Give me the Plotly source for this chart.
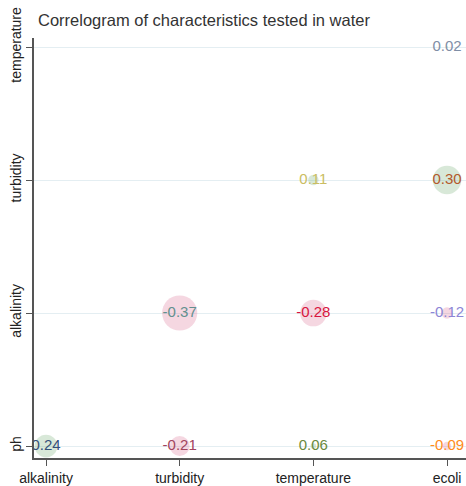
import plotly.graph_objects as go

# Variables on each axis
x_vars = ["alkalinity", "turbidity", "temperature", "ecoli"]
y_vars = ["ph", "alkalinity", "turbidity", "temperature"]

# Pairwise correlations (row variable vs column variable)
pair_rows = ["ph", "ph", "ph", "ph",
             "alkalinity", "alkalinity", "alkalinity",
             "turbidity", "turbidity",
             "temperature"]
pair_cols = ["alkalinity", "turbidity", "temperature", "ecoli",
             "turbidity", "temperature", "ecoli",
             "temperature", "ecoli",
             "ecoli"]
corr = [0.24, -0.21, 0.06, -0.09,
        -0.37, -0.28, -0.12,
        0.11, 0.30,
        0.02]

# Label colours for each coefficient
label_colors = ["#34507a", "#a2445e", "#6a8a3c", "#ff8c1a",
                "#62908f", "#d8143e", "#8c86d6",
                "#cbbd62", "#b3592c",
                "#7f8ea6"]

pos_rgb = (143, 188, 143)
neg_rgb = (219, 112, 147)


def bubble_color(r):
    rgb = pos_rgb if r >= 0 else neg_rgb
    alpha = 0.5 if r >= 0 else 0.4
    return f"rgba({rgb[0]},{rgb[1]},{rgb[2]},{alpha})"


FONT = "Liberation Sans, Arial, sans-serif"

fig = go.Figure(
    go.Scatter(
        x=pair_cols,
        y=pair_rows,
        mode="markers+text",
        text=[f"{r:.2f}" for r in corr],
        textposition="middle center",
        textfont=dict(family=FONT, size=15, color=label_colors),
        marker=dict(
            size=[abs(r) * 95 for r in corr],
            color=[bubble_color(r) for r in corr],
            line=dict(width=0),
        ),
        cliponaxis=False,
        hoverinfo="skip",
    )
)

fig.update_layout(
    width=466,
    height=486,
    margin=dict(l=34, r=0, t=38, b=28),
    paper_bgcolor="white",
    plot_bgcolor="white",
    showlegend=False,
    font=dict(family=FONT, size=14, color="#222"),
    title=dict(
        text="Correlogram of characteristics tested in water",
        x=38 / 466,
        xanchor="left",
        xref="container",
        y=1 - 20 / 486,
        yanchor="middle",
        font=dict(size=16.5, color="#333"),
    ),
)

fig.update_xaxes(
    type="category",
    categoryorder="array",
    categoryarray=x_vars,
    range=[-0.09, 3.142],
    showgrid=False,
    zeroline=False,
    showline=True,
    linecolor="#555",
    linewidth=1.8,
    ticks="outside",
    ticklen=6,
    tickcolor="#555",
    tickfont=dict(size=14, color="#222"),
)

fig.update_yaxes(
    type="category",
    categoryorder="array",
    categoryarray=y_vars,
    range=[-0.09, 3.068],
    showgrid=True,
    gridcolor="#e4eef2",
    gridwidth=1.2,
    zeroline=False,
    showline=True,
    linecolor="#555",
    linewidth=1.8,
    ticks="outside",
    ticklen=6,
    tickcolor="#555",
    tickangle=-90,
    tickfont=dict(size=14, color="#222"),
)

fig.write_html("out.html")
